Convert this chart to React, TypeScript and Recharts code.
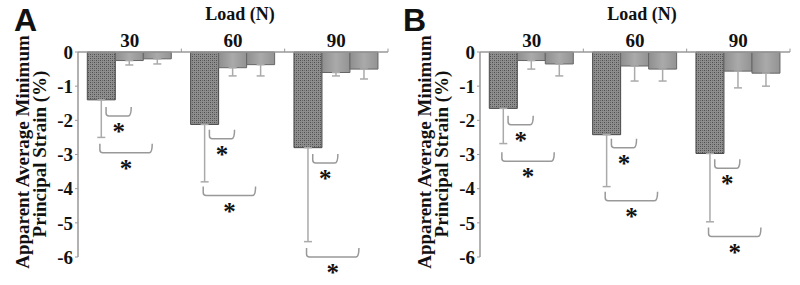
import React from 'react';
import { BarChart, Bar, XAxis, YAxis, ErrorBar, ReferenceLine, ReferenceDot, ScatterChart } from 'recharts';

// Load groups and y-axis ticks
const loads = ['30', '60', '90'];
const yTicks = [0, -1, -2, -3, -4, -5, -6];

// Panel A: mean apparent minimum principal strain (%) and one-sided SD
const seriesA1 = [-1.4, -2.12, -2.8];
const seriesA2 = [-0.25, -0.46, -0.6];
const seriesA3 = [-0.2, -0.37, -0.5];
const errA1 = [1.1, 1.68, 2.75];
const errA2 = [0.13, 0.24, 0.1];
const errA3 = [0.15, 0.33, 0.29];

// Panel B
const seriesB1 = [-1.65, -2.42, -2.97];
const seriesB2 = [-0.25, -0.41, -0.56];
const seriesB3 = [-0.35, -0.5, -0.62];
const errB1 = [1.03, 1.52, 2.0];
const errB2 = [0.25, 0.44, 0.49];
const errB3 = [0.35, 0.35, 0.38];

// significance brackets: group, bars compared, level of the bracket
const bracketsA = [
  { group: 0, from: 0, to: 1, y: -1.87 },
  { group: 0, from: 0, to: 2, y: -2.95 },
  { group: 1, from: 0, to: 1, y: -2.54 },
  { group: 1, from: 0, to: 2, y: -4.2 },
  { group: 2, from: 0, to: 1, y: -3.25 },
  { group: 2, from: 0, to: 2, y: -6.0 },
];
const bracketsB = [
  { group: 0, from: 0, to: 1, y: -2.13 },
  { group: 0, from: 0, to: 2, y: -3.2 },
  { group: 1, from: 0, to: 1, y: -2.8 },
  { group: 1, from: 0, to: 2, y: -4.35 },
  { group: 2, from: 0, to: 1, y: -3.4 },
  { group: 2, from: 0, to: 2, y: -5.4 },
];

const SERIF = '"Liberation Serif", "Times New Roman", serif';
const W = 400;
const H = 285;
const M = { top: 52, right: 12, bottom: 28, left: 78 };
const GAP = 0.09; // matches barCategoryGap
const BAR = (1 - 2 * GAP) / 3;
const barCenter = (g: number, b: number) => g + GAP + (b + 0.5) * BAR;

const bracketEnds = (b: { group: number; from: number; to: number }) => {
  const near = b.to - b.from === 1;
  return [
    barCenter(b.group, b.from) + (near ? 0.045 : -0.015),
    barCenter(b.group, b.to) + (near ? 0.015 : -0.055),
  ];
};

const Bracket = (p: any) => {
  const { x1, y1, x2, y2 } = p;
  const h = 9;
  const r = 3;
  const d = `M${x1},${y1 - h} L${x1},${y1 - r} Q${x1},${y1} ${x1 + r},${y1} L${x2 - r},${y2} Q${x2},${y2} ${x2},${y2 - h}`;
  return <path d={d} fill="none" stroke="#999" strokeWidth={1.5} />;
};

const Star = (p: any) => (
  <text x={p.cx} y={p.cy + 24} textAnchor="middle" fontFamily={SERIF} fontWeight="bold" fontSize={25} fill="#111">
    *
  </text>
);

interface PanelProps {
  letter: string;
  letterX: number;
  s1: number[];
  s2: number[];
  s3: number[];
  e1: number[];
  e2: number[];
  e3: number[];
  brackets: { group: number; from: number; to: number; y: number }[];
}

const Panel: React.FC<PanelProps> = ({ letter, letterX, s1, s2, s3, e1, e2, e3, brackets }) => {
  const data = loads.map((load, i) => ({
    load,
    s1: s1[i],
    s2: s2[i],
    s3: s3[i],
    e1: [e1[i], 0],
    e2: [e2[i], 0],
    e3: [e3[i], 0],
  }));

  const yLabel = () => (
    <g fontFamily={SERIF} fontWeight="bold" fontSize={19} fill="#111">
      <text transform="translate(29,152) rotate(-90)" textAnchor="middle">Apparent Average Minimum</text>
      <text transform="translate(46,154) rotate(-90)" textAnchor="middle">Principal Strain (%)</text>
    </g>
  );

  return (
    <div style={{ position: 'relative', width: W, height: H }}>
      <div style={{ position: 'absolute', left: 0, top: 0 }}>
        <BarChart
          width={W}
          height={H}
          data={data}
          margin={{ top: M.top - 30, right: M.right, bottom: M.bottom, left: 0 }}
          barCategoryGap="9%"
          barGap={0}
        >
          <defs>
            <pattern id={`hatch${letter}`} width={4} height={4} patternUnits="userSpaceOnUse">
              <rect width={4} height={4} fill="#8e8e8e" />
              <rect x={0} y={0} width={1} height={1} fill="#4e4e4e" />
              <rect x={2} y={2} width={1} height={1} fill="#4e4e4e" />
              <rect x={2} y={0} width={1} height={1} fill="#6a6a6a" />
              <rect x={0} y={2} width={1} height={1} fill="#6a6a6a" />
            </pattern>
            <linearGradient id={`grey${letter}`} x1="0" y1="0" x2="1" y2="0">
              <stop offset="0%" stopColor="#8e8e8e" />
              <stop offset="50%" stopColor="#aaaaaa" />
              <stop offset="100%" stopColor="#939393" />
            </linearGradient>
          </defs>
          <text x={letterX} y={31} fontFamily='"Liberation Sans", Arial, sans-serif' fontWeight="bold" fontSize={32} fill="#111">
            {letter}
          </text>
          <XAxis
            dataKey="load"
            orientation="top"
            height={30}
            tickLine={false}
            tickSize={0}
            tickMargin={5}
            axisLine={{ stroke: '#999', strokeWidth: 1.5 }}
            tick={{ fill: '#111', fontSize: 19, fontWeight: 'bold', fontFamily: SERIF }}
            label={{ value: 'Load (N)', position: 'top', offset: 2, dx: 7, fill: '#111', fontSize: 18, fontWeight: 'bold', fontFamily: SERIF }}
          />
          <YAxis
            type="number"
            domain={[-6, 0]}
            ticks={yTicks}
            width={M.left}
            tickSize={3}
            tickMargin={2}
            axisLine={{ stroke: '#999', strokeWidth: 1.5 }}
            tickLine={{ stroke: '#999' }}
            tick={{ fill: '#111', fontSize: 19, fontWeight: 'bold', fontFamily: SERIF }}
            label={yLabel}
          />
          <Bar dataKey="s1" fill={`url(#hatch${letter})`} stroke="#4a4a4a" strokeWidth={1} isAnimationActive={false}>
            <ErrorBar dataKey="e1" width={4} stroke="#aaa" strokeWidth={1.5} direction="y" isAnimationActive={false} />
          </Bar>
          <Bar dataKey="s2" fill={`url(#grey${letter})`} stroke="#666" strokeWidth={1} isAnimationActive={false}>
            <ErrorBar dataKey="e2" width={4} stroke="#aaa" strokeWidth={1.5} direction="y" isAnimationActive={false} />
          </Bar>
          <Bar dataKey="s3" fill={`url(#grey${letter})`} stroke="#666" strokeWidth={1} isAnimationActive={false}>
            <ErrorBar dataKey="e3" width={4} stroke="#aaa" strokeWidth={1.5} direction="y" isAnimationActive={false} />
          </Bar>
        </BarChart>
      </div>
      {/* overlay on a numeric x scale (one unit per load group) for brackets and group ticks */}
      <div style={{ position: 'absolute', left: 0, top: 0, pointerEvents: 'none' }}>
        <ScatterChart width={W} height={H} margin={M}>
          <XAxis type="number" dataKey="x" domain={[0, 3]} allowDataOverflow hide />
          <YAxis type="number" dataKey="y" domain={[-6, 0]} allowDataOverflow hide />
          {[1, 2, 3].map((g) => (
            <ReferenceLine
              key={`tick${g}`}
              segment={[{ x: g, y: 0 }, { x: g, y: 0.1 }]}
              stroke="#999"
              ifOverflow="visible"
            />
          ))}
          {brackets.map((b, i) => {
            const [x1, x2] = bracketEnds(b);
            return (
              <ReferenceLine
                key={`br${i}`}
                segment={[{ x: x1, y: b.y }, { x: x2, y: b.y }]}
                shape={Bracket}
                ifOverflow="visible"
              />
            );
          })}
          {brackets.map((b, i) => {
            const [x1, x2] = bracketEnds(b);
            return (
              <ReferenceDot key={`st${i}`} x={(x1 + x2) / 2} y={b.y} r={0} shape={Star} ifOverflow="visible" />
            );
          })}
        </ScatterChart>
      </div>
    </div>
  );
}

export default function App() {
  return (
    <div style={{ position: 'absolute', left: 0, top: 0, width: 800, height: 285, overflow: 'hidden', background: '#fff' }}>
      <div style={{ position: 'absolute', left: 0, top: 0 }}>
        <Panel letter="A" letterX={14} s1={seriesA1} s2={seriesA2} s3={seriesA3} e1={errA1} e2={errA2} e3={errA3} brackets={bracketsA} />
      </div>
      <div style={{ position: 'absolute', left: 402, top: 0 }}>
        <Panel letter="B" letterX={1} s1={seriesB1} s2={seriesB2} s3={seriesB3} e1={errB1} e2={errB2} e3={errB3} brackets={bracketsB} />
      </div>
    </div>
  );
}
